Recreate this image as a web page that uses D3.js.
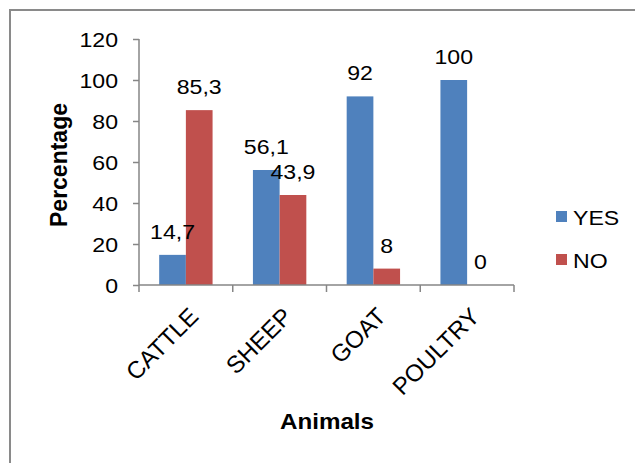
<!DOCTYPE html>
<html>
<head>
<meta charset="utf-8">
<script src="https://cdn.jsdelivr.net/npm/d3@7"></script>
<style>
  html, body { margin: 0; padding: 0; background: #fff; }
  svg { display: block; font-family: "Liberation Sans", Arial, sans-serif; }
</style>
</head>
<body>
<svg id="chart" width="635" height="463"></svg>
<script>
const categories = ["CATTLE", "SHEEP", "GOAT", "POULTRY"];
const seriesNames = ["YES", "NO"];
const yesValues = [14.7, 56.1, 92, 100];
const noValues = [85.3, 43.9, 8, 0];
const yTicks = [0, 20, 40, 60, 80, 100, 120];
const colors = { YES: "#4F81BD", NO: "#C0504D" };

const data = categories.map((c, i) => ({ cat: c, YES: yesValues[i], NO: noValues[i] }));
const fmt = v => String(v).replace(".", ",");

const svg = d3.select("#chart");
const axisColor = "#868686";
const SX = 1.1;

// outer border
svg.append("rect").attr("x", 10).attr("y", 10).attr("width", 700).attr("height", 500)
  .attr("fill", "none").attr("stroke", "#8a8a8a").attr("stroke-width", 2);

const x0 = d3.scaleBand().domain(categories).range([139, 514]).paddingInner(0).paddingOuter(0);
const x1 = d3.scaleBand().domain(seriesNames).range([0, x0.bandwidth()]).paddingInner(0).paddingOuter(0.756);
const y = d3.scaleLinear().domain([0, 120]).range([285, 39]);

function stretchText(g, x, yv) {
  return g.attr("transform", `translate(${x},${yv}) scale(${SX},1)`);
}

// bars
const groups = svg.append("g").selectAll("g").data(data).join("g")
  .attr("transform", d => `translate(${x0(d.cat)},0)`);
groups.selectAll("rect").data(d => seriesNames.map(s => ({ s, v: d[s] }))).join("rect")
  .attr("x", d => x1(d.s)).attr("width", x1.bandwidth())
  .attr("y", d => y(d.v)).attr("height", d => y(0) - y(d.v))
  .attr("fill", d => colors[d.s]);

// y axis
const yAxis = svg.append("g").attr("transform", "translate(139,0)")
  .call(d3.axisLeft(y).tickValues(yTicks).tickSize(6).tickFormat(""));
yAxis.select(".domain").attr("stroke", axisColor).attr("stroke-width", 1.5).attr("d", `M0,${y(120)}V${y(0)}`);
yAxis.selectAll(".tick line").attr("stroke", axisColor).attr("stroke-width", 1.5);

svg.append("g").selectAll("text").data(yTicks).join("text")
  .each(function (d) { stretchText(d3.select(this), 118, y(d)); })
  .attr("text-anchor", "end").attr("dy", "0.36em")
  .attr("font-size", 21).attr("fill", "#000").text(d => d);

// x axis
const xAxis = svg.append("g").attr("transform", `translate(0,${y(0)})`);
xAxis.append("line").attr("x1", 139).attr("x2", 514).attr("y1", 0).attr("y2", 0)
  .attr("stroke", axisColor).attr("stroke-width", 1.5);
const bounds = categories.map(c => x0(c)).concat([x0(categories[categories.length - 1]) + x0.bandwidth()]);
xAxis.selectAll("line.t").data(bounds).join("line").attr("class", "t")
  .attr("x1", d => d).attr("x2", d => d).attr("y1", 0).attr("y2", 7)
  .attr("stroke", axisColor).attr("stroke-width", 1.5);

// category labels
svg.append("g").selectAll("text").data(categories).join("text")
  .attr("transform", c => `translate(${x0(c) + x0.bandwidth() / 2 + 14},318) rotate(-45)`)
  .attr("text-anchor", "end").attr("font-size", 24).attr("fill", "#000").text(c => c);

// data labels
const labels = [];
data.forEach(d => seriesNames.forEach(s => labels.push({ cat: d.cat, s, v: d[s] })));
svg.append("g").selectAll("text").data(labels).join("text")
  .each(function (d) { stretchText(d3.select(this), x0(d.cat) + x1(d.s) + x1.bandwidth() / 2, y(d.v) - 16); })
  .attr("text-anchor", "middle").attr("font-size", 21).attr("fill", "#000").text(d => fmt(d.v));

// axis titles
svg.append("text").attr("transform", "translate(67,165) rotate(-90)")
  .attr("text-anchor", "middle").attr("font-size", 23).attr("font-weight", "bold").text("Percentage");
svg.append("text").call(g => stretchText(g, 327, 429))
  .attr("text-anchor", "middle").attr("font-size", 22).attr("font-weight", "bold").text("Animals");

// legend
const legend = svg.append("g").selectAll("g").data(seriesNames).join("g")
  .attr("transform", (s, i) => `translate(556,${211 + i * 43})`);
legend.append("rect").attr("width", 11).attr("height", 11).attr("fill", s => colors[s]);
legend.append("text").each(function () { stretchText(d3.select(this), 17, 14); })
  .attr("font-size", 21).attr("fill", "#000").text(s => s);
</script>
</body>
</html>
